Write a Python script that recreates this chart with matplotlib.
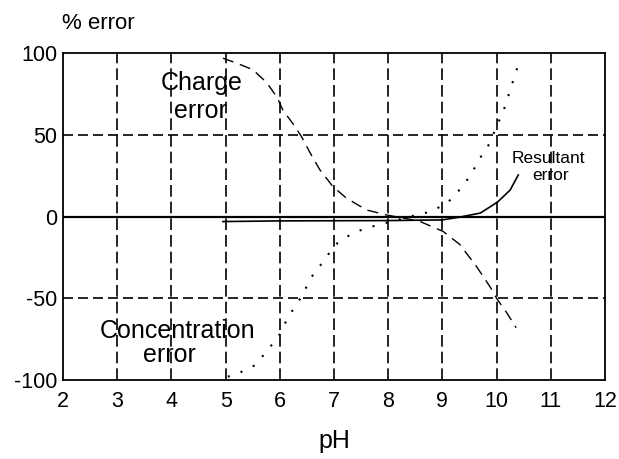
import matplotlib
matplotlib.use('Agg')
import matplotlib.pyplot as plt

plt.rcParams['font.family'] = ['Liberation Sans', 'DejaVu Sans']
plt.rcParams['axes.unicode_minus'] = False

# values
charge_ph = [4.95, 5.2, 5.5, 5.76, 5.95, 6.06, 6.24, 6.4, 6.56, 6.74, 6.98, 7.23, 7.6, 7.97,
             8.3, 8.59, 9.01, 9.32, 9.63, 9.88, 10.0, 10.19, 10.36]
charge_err = [97, 94, 90, 82, 73, 65, 57, 49, 39, 28.6, 18.4, 11.3, 4.1, 1,
              -1, -3, -9, -17, -30.6, -43, -50, -59, -68]

conc_ph = [5.04, 5.29, 5.54, 5.78, 6.0, 6.13, 6.28, 6.4, 6.59, 6.8, 6.96, 7.07, 7.35, 7.6, 7.88,
           8.4, 8.77, 9.08, 9.36, 9.54, 9.69, 9.84, 10.0, 10.15, 10.28, 10.4]
conc_err = [-98, -95, -91, -81.6, -72, -63, -55, -49, -36.7, -27.5, -20, -16, -10, -7, -4.5,
            0, 3, 8, 18, 26.5, 35.7, 43, 55, 67, 80.6, 93]

result_ph = [4.95, 6.0, 7.0, 8.0, 9.0, 9.3, 9.7, 10.02, 10.25, 10.4]
result_err = [-3, -2.6, -2.5, -2.4, -2, -0.4, 2.2, 9, 16.3, 25.5]

x_ticks = list(range(2, 13))
y_ticks = [-100, -50, 0, 50, 100]

fig = plt.figure(figsize=(6.19, 4.59), dpi=100)
ax = fig.add_axes([0.1018, 0.1721, 0.8756, 0.7118])

# grid
for x in x_ticks[1:-1]:
    ax.axvline(x, color='black', lw=1.2, linestyle=(0, (7, 3)), zorder=1)
for y in [-50, 50]:
    ax.axhline(y, color='black', lw=1.2, linestyle=(0, (6, 3)), zorder=1)
ax.axhline(0, color='black', lw=1.6, zorder=1)

ax.plot(charge_ph, charge_err, color='black', lw=1.0, linestyle=(0, (8, 5)))
ax.plot(conc_ph, conc_err, color='black', lw=1.5, linestyle=(0, (1, 5.5)))
ax.plot(result_ph, result_err, color='black', lw=1.2)

ax.text(4.55, 77.5, 'Charge', ha='center', va='baseline', fontsize=18)
ax.text(4.54, 60.4, 'error', ha='center', va='baseline', fontsize=18)
ax.text(4.12, -74.2, 'Concentration', ha='center', va='baseline', fontsize=18)
ax.text(3.96, -88.9, 'error', ha='center', va='baseline', fontsize=18)
ax.text(10.95, 32.9, 'Resultant', ha='center', va='baseline', fontsize=12.5)
ax.text(10.99, 22.4, 'error', ha='center', va='baseline', fontsize=12.5)

ax.set_xlim(2, 12)
ax.set_ylim(-100, 100)
ax.set_xticks(x_ticks)
ax.set_yticks(y_ticks)
ax.tick_params(length=0, labelsize=15.5)
ax.tick_params(axis='x', pad=8)
ax.tick_params(axis='y', pad=4.3)
for s in ax.spines.values():
    s.set_linewidth(1.3)

fig.text(0.54, 0.024, 'pH', fontsize=18, ha='center', va='baseline')
fig.text(0.100, 0.937, '% error', fontsize=16, ha='left', va='baseline')

fig.savefig('out.png', dpi=100)
